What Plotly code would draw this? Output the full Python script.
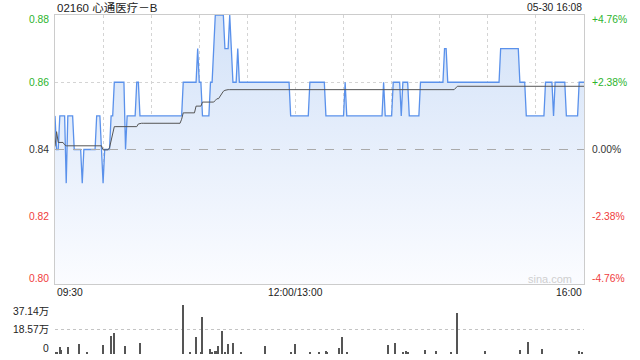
import plotly.graph_objects as go

# ---------------- data ----------------
title_text = "02160 心通医疗－B"
date_text = "05-30 16:08"
prev_close = 0.84
price_ticks = [0.88, 0.86, 0.84, 0.82, 0.80]
time_labels = ["09:30", "12:00/13:00", "16:00"]
time_label_minutes = [0, 150, 330]
grid_minutes = [30, 60, 90, 120, 150, 180, 210, 240, 270, 300]
n_minutes = 331  # 09:30-12:00 + 13:00-16:00, one point per minute

# price: run starts (minute index -> last price)
price_run_start = [0, 1, 3, 7, 8, 12, 17, 18, 26, 29, 30, 31, 35, 37, 44, 45, 51, 53,
                   80, 89, 90, 92, 97, 99, 100, 106, 109, 110, 111, 114, 115, 147,
                   159, 169, 181, 182, 205, 206, 211, 216, 217, 221, 228, 243, 245,
                   278, 290, 294, 306, 311, 312, 319, 327]
price_run_value = [0.85, 0.84, 0.85, 0.83, 0.85, 0.84, 0.83, 0.84, 0.85, 0.84, 0.83, 0.84,
                   0.85, 0.86, 0.84, 0.85, 0.86, 0.85,
                   0.86, 0.87, 0.86, 0.85, 0.86, 0.87, 0.88, 0.87, 0.88, 0.87, 0.86, 0.87,
                   0.86, 0.85, 0.86, 0.85, 0.86, 0.85, 0.86, 0.85, 0.86, 0.85, 0.86, 0.85,
                   0.86, 0.87, 0.86, 0.87, 0.86, 0.85, 0.86, 0.85, 0.86, 0.85, 0.86]

# average price: run starts
avg_run_start = [0, 1, 2, 6, 7, 30, 34, 35, 36, 37, 52, 53, 79, 80, 88, 92, 100, 101,
                 103, 104, 105, 106, 107, 250, 251]
avg_run_value = [0.8409, 0.8453, 0.8421, 0.8414, 0.8411, 0.8399, 0.8405, 0.8430, 0.8452,
                 0.8468, 0.8476, 0.8478, 0.8490, 0.8509, 0.8529, 0.8541, 0.8546, 0.8551,
                 0.8558, 0.8565, 0.8573, 0.8576, 0.8578, 0.8583, 0.8588]

# volume (unit: 万 shares), notable bars
vol_minute = [0, 1, 3, 4, 8, 15, 20, 30, 35, 37, 44, 53, 80, 84, 88, 91, 92, 97, 98, 100,
              101, 102, 104, 106, 108, 111, 116, 131, 147, 150, 159, 165, 169, 170, 177,
              179, 182, 208, 212, 217, 219, 220, 231, 238, 247, 251, 268, 290, 295, 304,
              327, 329]
vol_value = [1.0, 1.0, 5.3, 3.0, 5.3, 7.6, 1.0, 7.1, 13.9, 15.9, 6.1, 8.3, 37.14, 1.0, 12.9,
             1.0, 28.0, 3.8, 1.8, 2.3, 2.5, 6.1, 17.4, 1.5, 7.6, 8.3, 1.0, 6.1, 1.0, 7.6, 1.5,
             1.0, 2.3, 1.5, 4.5, 12.9, 1.5, 6.8, 8.6, 1.8, 2.5, 1.0, 3.0, 2.3, 1.0, 31.1, 2.3,
             3.0, 9.1, 3.8, 2.3, 1.5]
vol_ticks = [37.14, 18.57, 0]
vol_tick_text = ["37.14万", "18.57万", "0"]


def expand(starts, values, n):
    out = []
    j = 0
    for m in range(n):
        while j + 1 < len(starts) and starts[j + 1] <= m:
            j += 1
        out.append(values[j])
    return out


minutes = list(range(n_minutes))
price = expand(price_run_start, price_run_value, n_minutes)
avg = expand(avg_run_start, avg_run_value, n_minutes)

# ---------------- style ----------------
W, H = 640, 360
L, R = 55, 584
TOP, BOT = 15, 284
VTOP, VBOT = 305, 354
GREEN = "#2db42d"
RED = "#f03c3c"
DARK = "#333333"
FONT = "Liberation Sans, Arial, Noto Sans CJK SC"
GRID = "#d4d4d4"

fig = go.Figure()
fig.add_trace(go.Scatter(
    x=minutes, y=price, mode="lines",
    line=dict(color="#5a91eb", width=1.3),
    fill="tozeroy",
    fillgradient=dict(type="vertical",
                      colorscale=[[0, "#fbfcff"], [1, "#d3e2f8"]],
                      start=price_ticks[-1], stop=price_ticks[0]),
    xaxis="x", yaxis="y", hoverinfo="skip"))
fig.add_trace(go.Scatter(
    x=minutes, y=avg, mode="lines",
    line=dict(color="#555555", width=1),
    xaxis="x", yaxis="y", hoverinfo="skip"))
fig.add_trace(go.Bar(
    x=vol_minute, y=vol_value, width=0.7,
    marker=dict(color="#555555", line=dict(width=0)),
    xaxis="x2", yaxis="y2", hoverinfo="skip"))

xdom = [L / W, R / W]
fig.update_layout(
    width=W, height=H, margin=dict(l=0, r=0, t=0, b=0),
    paper_bgcolor="white", plot_bgcolor="rgba(0,0,0,0)",
    showlegend=False, bargap=0,
    font=dict(family=FONT, size=10.3, color=DARK),
    xaxis=dict(domain=xdom, range=[0, n_minutes - 1], anchor="y",
               tickvals=grid_minutes, showticklabels=False, ticks="",
               showgrid=True, griddash="dot", gridcolor=GRID, gridwidth=1,
               showline=True, mirror=True, linecolor="#cccccc", linewidth=1,
               zeroline=False, fixedrange=True),
    yaxis=dict(domain=[1 - BOT / H, 1 - TOP / H], range=[price_ticks[-1], price_ticks[0]],
               anchor="x", tickvals=price_ticks[1:-1], showticklabels=False, ticks="",
               showgrid=True, griddash="dot", gridcolor=GRID,
               showline=True, mirror=True, linecolor="#cccccc", linewidth=1,
               zeroline=False, fixedrange=True),
    xaxis2=dict(domain=xdom, range=[0, n_minutes - 1], anchor="y2",
                tickvals=[n_minutes - 1], showticklabels=False, ticks="",
                showgrid=True, griddash="dot", gridcolor=GRID,
                showline=False, zeroline=False, fixedrange=True),
    yaxis2=dict(domain=[1 - VBOT / H, 1 - VTOP / H], range=[0, vol_ticks[0]],
                anchor="x2", tickvals=vol_ticks, showticklabels=False, ticks="",
                showgrid=True, griddash="dot", gridcolor="#c4c4c4",
                showline=False, zeroline=False, fixedrange=True),
)

# previous close reference line
fig.add_shape(type="line", xref="x domain", yref="y", x0=0, x1=1,
              y0=prev_close, y1=prev_close,
              line=dict(color="#aaaaaa", width=1, dash="dash"))

ann = []
shift_for = {0: -5, len(price_ticks) - 1: 6}
for i, p in enumerate(price_ticks):
    if p > prev_close + 1e-9:
        col = GREEN
    elif p < prev_close - 1e-9:
        col = RED
    else:
        col = DARK
    pct = (p - prev_close) / prev_close * 100
    pct_text = ("+" if pct > 0.001 else "") + f"{pct:.2f}%"
    ys = shift_for.get(i, 0)
    ann.append(dict(xref="paper", yref="y", x=51 / W, y=p, yshift=ys, text=f"{p:.2f}",
                    xanchor="right", yanchor="middle", showarrow=False,
                    font=dict(color=col, size=10.3)))
    ann.append(dict(xref="paper", yref="y", x=590 / W, y=p, yshift=ys, text=pct_text,
                    xanchor="left", yanchor="middle", showarrow=False,
                    font=dict(color=col, size=10.3)))

anchors = ["left", "center", "right"]
for t, m, a in zip(time_labels, time_label_minutes, anchors):
    ann.append(dict(xref="x", yref="paper", x=m, y=1 - 292.7 / H, text=t,
                    xanchor=a, yanchor="middle", showarrow=False,
                    font=dict(color="#222222", size=10.3)))

vshift = [-6, 0, 6]
for v, t, s in zip(vol_ticks, vol_tick_text, vshift):
    ann.append(dict(xref="paper", yref="y2", x=51 / W, y=v, yshift=s, text=t,
                    xanchor="right", yanchor="middle", showarrow=False,
                    font=dict(color="#222222", size=10.3)))

ann.append(dict(xref="paper", yref="paper", x=L / W, y=1 - 7.3 / H, text=title_text,
                xanchor="left", yanchor="middle", showarrow=False,
                font=dict(color="#222222", size=11.5)))
ann.append(dict(xref="paper", yref="paper", x=R / W, y=1 - 7.3 / H, text=date_text,
                xanchor="right", yanchor="middle", showarrow=False,
                font=dict(color="#222222", size=10.3)))
ann.append(dict(xref="paper", yref="paper", x=574 / W, y=1 - 279 / H, text="sina.com",
                xanchor="right", yanchor="middle", showarrow=False,
                font=dict(color="#cfcfcf", size=11)))
fig.update_layout(annotations=ann)

fig.write_html("out.html", config={"displayModeBar": False})
